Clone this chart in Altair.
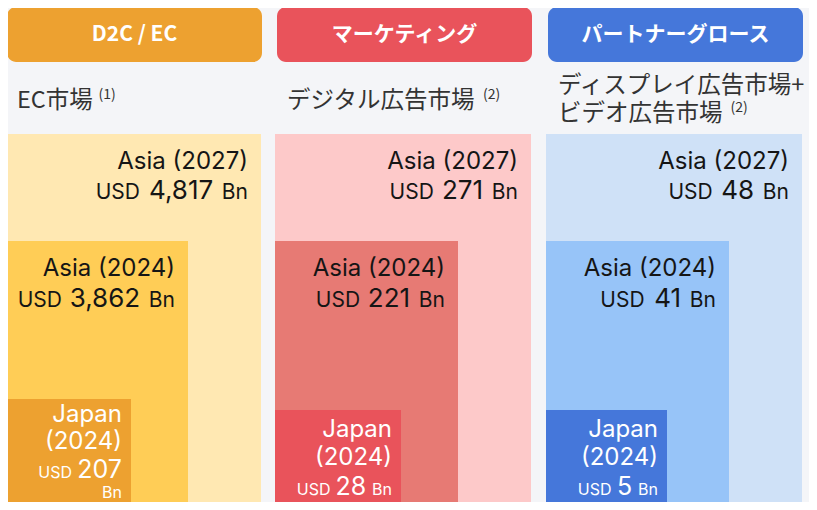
import altair as alt
import pandas as pd

# ---------------- data ----------------
panel_titles = ["D2C / EC", "マーケティング", "パートナーグロース"]
subtitle_lines = [["EC市場"], ["デジタル広告市場"], ["ディスプレイ広告市場+", "ビデオ広告市場"]]
notes = ["(1)", "(2)", "(2)"]
asia_2027 = [4817, 271, 48]
asia_2024 = [3862, 221, 41]
japan_2024 = [207, 28, 5]
label_2027 = ["Asia (2027)"]
label_2024 = ["Asia (2024)"]
label_japan = ["Japan", "(2024)"]
currency = "USD"
unit = "Bn"

# ---------------- styles ----------------
BG = "#F4F5F8"
header_colors = ["#EDA130", "#E9535B", "#4577DA"]
box_colors = [["#FFE8B2", "#FFCD56", "#EDA130"],
              ["#FDC9C9", "#E77A74", "#E9535B"],
              ["#CFE1F7", "#97C4F8", "#4577DA"]]
dark_text = "#151515"
sub_text = "#333333"
LATIN = "Inter"
CJK = "Noto Sans CJK JP"

# ---------------- layout (reference frame in px) ----------------
X0, X1, Y0, Y1 = 8, 809, 8, 502
panel_left = [5, 275, 546]
panel_w = 256
header_top, header_bottom = 7, 62
outer_top = 134
mid_w, mid_top = 183, 241
inner_w = [126, 126, 121]
inner_top = [399, 410, 410]
inner_wrap = [True, False, False]
bottom = 540
SUB_SIZE = 23.5

# approximate Inter advance widths (em)
ADV = {'A': .69, 's': .53, 'i': .24, 'a': .56, ' ': .28, '(': .34, ')': .34,
       '0': .63, '1': .42, '2': .58, '3': .61, '4': .64, '5': .59, '6': .61,
       '7': .55, '8': .61, '9': .61, ',': .25, 'U': .72, 'S': .64, 'D': .71,
       'B': .65, 'n': .58, 'J': .52, 'p': .6}
CJK_ADV = {'E': .545, 'C': .58, '+': .6}


def w_latin(s, size):
    return sum(ADV.get(c, .6) for c in s) * size


def w_cjk(s, size):
    return sum(1.0 if ord(c) > 0x2E80 else CJK_ADV.get(c, .55) for c in s) * size


rects, headers, subs, supers, texts = [], [], [], [], []


def value_line(xr, yb, v, big, small, gap, color, wrap_unit=False, unit_y=None):
    num = f"{v:,}"
    if wrap_unit:
        texts.append(dict(x=xr, y=unit_y, t=unit, s=small, c=color))
        texts.append(dict(x=xr, y=yb, t=num, s=big, c=color))
        texts.append(dict(x=xr - w_latin(num, big) - gap, y=yb, t=currency, s=small, c=color))
    else:
        texts.append(dict(x=xr, y=yb, t=unit, s=small, c=color))
        xn = xr - w_latin(unit, small) - gap
        texts.append(dict(x=xn, y=yb, t=num, s=big, c=color))
        texts.append(dict(x=xn - w_latin(num, big) - gap, y=yb, t=currency, s=small, c=color))


for i in range(3):
    L = panel_left[i]
    cols = box_colors[i]
    rects.append(dict(x=L, x2=L + panel_w, y=outer_top, y2=bottom, c=cols[0], o=0))
    rects.append(dict(x=L, x2=L + mid_w, y=mid_top, y2=bottom, c=cols[1], o=1))
    rects.append(dict(x=L, x2=L + inner_w[i], y=inner_top[i], y2=bottom, c=cols[2], o=2))
    headers.append(dict(x=L + 2, x2=L + 257, y=header_top, y2=header_bottom,
                        c=header_colors[i], t=panel_titles[i], xc=L + 2 + 127.5,
                        yc=(header_top + header_bottom) / 2))
    # subtitles
    sx = L + 12
    nlines = len(subtitle_lines[i])
    base = 108 if nlines == 1 else 92.5
    pitch = 28.5
    for k, line in enumerate(subtitle_lines[i]):
        subs.append(dict(x=sx, y=base + pitch * k, t=line))
    last = subtitle_lines[i][-1]
    supers.append(dict(x=sx + w_cjk(last, SUB_SIZE) + 8,
                       y=base + pitch * (nlines - 1) - 9, t=notes[i]))

    # outer (Asia 2027)
    xr = L + panel_w - 13
    texts.append(dict(x=xr, y=169, t=label_2027[0], s=24, c=dark_text))
    value_line(xr, 199, asia_2027[i], 26, 21, 9, dark_text)
    # middle (Asia 2024)
    xr = L + mid_w - 13
    texts.append(dict(x=xr, y=276, t=label_2024[0], s=24, c=dark_text))
    value_line(xr, 307, asia_2024[i], 26, 21, 9, dark_text)
    # inner (Japan 2024)
    xr = L + inner_w[i] - 9
    if inner_wrap[i]:
        texts.append(dict(x=xr, y=422, t=label_japan[0], s=24, c="white"))
        texts.append(dict(x=xr, y=449, t=label_japan[1], s=24, c="white"))
        value_line(xr, 478, japan_2024[i], 25, 16, 6, "white", wrap_unit=True, unit_y=498)
    else:
        texts.append(dict(x=xr, y=437, t=label_japan[0], s=24, c="white"))
        texts.append(dict(x=xr, y=465, t=label_japan[1], s=24, c="white"))
        value_line(xr, 495, japan_2024[i], 25, 16, 6, "white")

xs = alt.Scale(domain=[X0, X1], nice=False, zero=False)
ys = alt.Scale(domain=[Y0, Y1], nice=False, zero=False, reverse=True)


def X(f):
    return alt.X(f, type="quantitative", scale=xs, axis=None)


def Y(f):
    return alt.Y(f, type="quantitative", scale=ys, axis=None)


rect_layer = alt.Chart(pd.DataFrame(rects)).mark_rect(clip=True).encode(
    x=X("x"), x2="x2", y=Y("y"), y2="y2",
    color=alt.Color("c:N", scale=None), order="o:Q")

header_layer = alt.Chart(pd.DataFrame(headers)).mark_rect(cornerRadius=9).encode(
    x=X("x"), x2="x2", y=Y("y"), y2="y2", color=alt.Color("c:N", scale=None))

header_text = alt.Chart(pd.DataFrame(headers)).mark_text(
    font=CJK, fontWeight="bold", fontSize=21, color="white",
    align="center", baseline="middle").encode(x=X("xc"), y=Y("yc"), text="t:N")

sub_layer = alt.Chart(pd.DataFrame(subs)).mark_text(
    font=CJK, fontSize=SUB_SIZE, color=sub_text, align="left", baseline="alphabetic").encode(
    x=X("x"), y=Y("y"), text="t:N")

sup_layer = alt.Chart(pd.DataFrame(supers)).mark_text(
    font=CJK, fontSize=14, color=sub_text, align="left", baseline="alphabetic").encode(
    x=X("x"), y=Y("y"), text="t:N")

val_layer = alt.Chart(pd.DataFrame(texts)).mark_text(
    font=LATIN, align="right", baseline="alphabetic").encode(
    x=X("x"), y=Y("y"), text="t:N",
    size=alt.Size("s:Q", scale=None), color=alt.Color("c:N", scale=None))

chart = alt.layer(rect_layer, header_layer, header_text, sub_layer, sup_layer, val_layer).properties(
    width=X1 - X0, height=Y1 - Y0, padding=0,
    autosize=alt.AutoSizeParams(type="none"),
    background=BG,
).configure_view(stroke=None)

chart.save("out.html", embed_options={"renderer": "svg", "actions": False})
